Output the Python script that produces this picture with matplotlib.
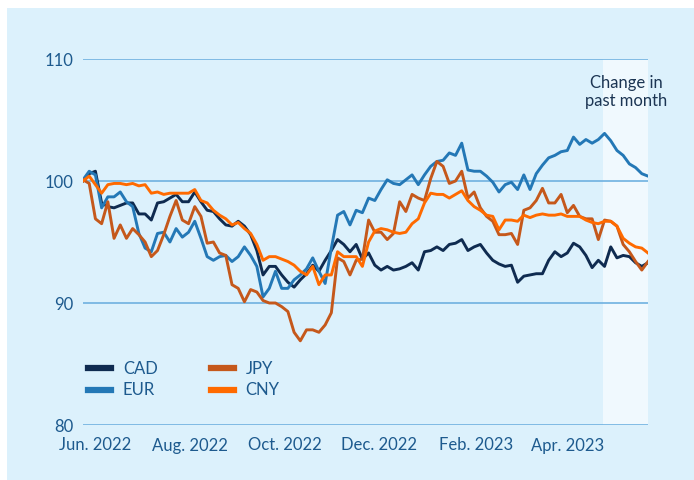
import matplotlib
matplotlib.use("Agg")
import matplotlib.pyplot as plt
from matplotlib.patches import Rectangle
from matplotlib.lines import Line2D
import pandas as pd

plt.rcParams['font.family'] = ['Lato', 'DejaVu Sans']

# ---- data (index values, read every 4 days from 2022-05-24) ----
dates = pd.date_range('2022-05-24', periods=92, freq='4D')

cad = [100.0, 100.6, 100.8, 98.2, 97.9, 97.8, 98.0, 98.2, 98.2, 97.3,
       97.3, 96.8, 98.2, 98.3, 98.6, 98.9, 98.3, 98.3, 99.1, 98.3,
       97.6, 97.5, 96.9, 96.4, 96.3, 96.7, 96.3, 95.6, 94.3, 92.3,
       93.0, 93.0, 92.3, 91.7, 91.3, 91.9, 92.4, 93.1, 92.6, 93.5,
       94.3, 95.2, 94.8, 94.2, 94.8, 93.6, 94.1, 93.1, 92.7, 93.0,
       92.7, 92.8, 93.0, 93.3, 92.7, 94.2, 94.3, 94.6, 94.3, 94.8,
       94.9, 95.2, 94.3, 94.6, 94.8, 94.1, 93.5, 93.2, 93.0, 93.1,
       91.7, 92.2, 92.3, 92.4, 92.4, 93.5, 94.2, 93.8, 94.1, 94.9,
       94.6, 93.9, 92.9, 93.5, 93.0, 94.6, 93.7, 93.9, 93.8, 93.3,
       93.0, 93.3]

eur = [100.1, 100.8, 100.5, 97.8, 98.7, 98.7, 99.1, 98.3, 97.9, 95.7,
       94.5, 94.2, 95.7, 95.8, 95.0, 96.1, 95.4, 95.8, 96.7, 95.3,
       93.8, 93.5, 93.8, 93.9, 93.4, 93.8, 94.6, 93.9, 93.0, 90.5,
       91.2, 92.6, 91.2, 91.2, 91.9, 92.3, 92.8, 93.7, 92.6, 91.6,
       94.5, 97.2, 97.5, 96.4, 97.6, 97.4, 98.6, 98.4, 99.3, 100.1,
       99.8, 99.7, 100.1, 100.5, 99.7, 100.5, 101.2, 101.6, 101.7, 102.3,
       102.1, 103.1, 100.9, 100.8, 100.8, 100.4, 99.9, 99.1, 99.7, 99.9,
       99.3, 100.5, 99.3, 100.6, 101.3, 101.9, 102.1, 102.4, 102.5, 103.6,
       103.0, 103.4, 103.1, 103.4, 103.9, 103.3, 102.5, 102.1, 101.4, 101.1,
       100.6, 100.4]

jpy = [100.1, 99.8, 96.9, 96.5, 98.3, 95.3, 96.4, 95.3, 96.1, 95.6,
       95.0, 93.8, 94.3, 95.6, 97.1, 98.4, 96.8, 96.5, 97.9, 97.1,
       94.9, 95.0, 94.1, 93.9, 91.5, 91.2, 90.1, 91.1, 90.9, 90.2,
       90.0, 90.0, 89.7, 89.3, 87.6, 86.9, 87.8, 87.8, 87.6, 88.2,
       89.2, 93.7, 93.4, 92.3, 93.5, 93.6, 96.8, 95.8, 95.8, 95.2,
       95.7, 98.3, 97.5, 98.9, 98.6, 98.4, 100.2, 101.6, 101.2, 99.8,
       100.0, 100.8, 98.6, 99.1, 97.8, 97.1, 96.7, 95.6, 95.6, 95.7,
       94.8, 97.6, 97.8, 98.4, 99.4, 98.2, 98.2, 98.9, 97.4, 98.0,
       97.1, 96.9, 96.9, 95.2, 96.8, 96.7, 96.3, 94.8, 94.2, 93.4,
       92.7, 93.4]

cny = [100.0, 100.4, 99.7, 99.0, 99.7, 99.8, 99.8, 99.7, 99.8, 99.6,
       99.7, 99.0, 99.1, 98.9, 99.0, 99.0, 99.0, 99.0, 99.3, 98.4,
       98.2, 97.6, 97.2, 96.9, 96.4, 96.6, 96.1, 95.7, 94.8, 93.5,
       93.8, 93.8, 93.6, 93.4, 93.1, 92.6, 92.3, 93.0, 91.5, 92.3,
       92.3, 94.2, 93.8, 93.8, 93.8, 93.0, 95.0, 95.9, 96.1, 96.0,
       95.8, 95.7, 95.8, 96.5, 96.9, 98.2, 99.0, 98.9, 98.9, 98.6,
       98.9, 99.2, 98.4, 97.9, 97.6, 97.2, 97.1, 96.0, 96.8, 96.8,
       96.7, 97.2, 97.0, 97.2, 97.3, 97.2, 97.2, 97.3, 97.1, 97.1,
       97.1, 96.8, 96.6, 96.5, 96.7, 96.7, 96.3, 95.3, 94.9, 94.6,
       94.5, 94.1]

series_names = ['CAD', 'EUR', 'JPY', 'CNY']
series_vals = [cad, eur, jpy, cny]
series_colors = ['#0f2b50', '#2478b6', '#c5581b', '#ff6a00']

tick_dates = ['2022-06-01', '2022-08-01', '2022-10-01', '2022-12-01',
              '2023-02-01', '2023-04-01']
tick_labels = ['Jun. 2022', 'Aug. 2022', 'Oct. 2022', 'Dec. 2022',
               'Feb. 2023', 'Apr. 2023']
y_ticks = [80, 90, 100, 110]
shade_start = '2023-04-24'

# ---- figure ----
W, H = 694, 480
fig = plt.figure(figsize=(W / 100, H / 100), dpi=100)
fig.patch.set_facecolor('white')

bg = fig.add_axes([0, 0, 1, 1], zorder=-5)
bg.set_axis_off()
bg.set_xlim(0, 1)
bg.set_ylim(0, 1)
bg.add_patch(Rectangle((7 / W, 0), 1, (H - 8) / H,
                       facecolor='#dcf1fc', edgecolor='none'))

ax = fig.add_axes([83 / W, (H - 425) / H, 565 / W, 366 / H], zorder=1)
ax.set_facecolor('none')

ax.axvspan(pd.Timestamp(shade_start), dates[-1], color='#f0f9fe', zorder=0, lw=0)

for name, vals, col in zip(series_names, series_vals, series_colors):
    ax.plot(dates, vals, color=col, lw=2.1, label=name, zorder=3,
            solid_joinstyle='round')

ax.set_xlim(dates[0], dates[-1])
ax.set_ylim(80, 110)
ax.set_yticks(y_ticks)
ax.set_xticks(pd.to_datetime(tick_dates))
ax.set_xticklabels(tick_labels)
ax.grid(axis='y', color='#6fb1e0', lw=1.2, zorder=1)
ax.grid(axis='x', visible=False)
ax.set_axisbelow(True)
for s in ax.spines.values():
    s.set_visible(False)
ax.tick_params(axis='both', length=0, labelsize=12, labelcolor='#1d5a8e')
ax.tick_params(axis='y', pad=7)
ax.tick_params(axis='x', pad=9)

ax.text(pd.Timestamp('2023-05-09'), 107.3, 'Change in\npast month',
        ha='center', va='center', fontsize=12, color='#1c3553',
        linespacing=1.15, zorder=5)

handles = [Line2D([0], [0], color=c, lw=4.5) for c in series_colors]
leg = ax.legend(handles, series_names, ncol=2, frameon=False,
                loc='upper left', bbox_to_anchor=(0.009, 0.175),
                borderaxespad=0, borderpad=0, handlelength=1.38,
                handletextpad=0.7, columnspacing=3.2, labelspacing=0.33,
                fontsize=12)
for t in leg.get_texts():
    t.set_color('#1d5a8e')

fig.savefig('out.png', dpi=100)
